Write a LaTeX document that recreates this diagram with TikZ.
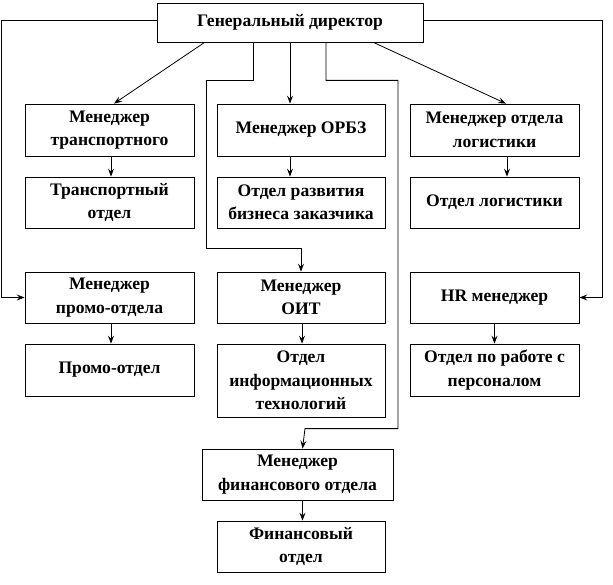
\documentclass[tikz,border=0pt]{standalone}
\usepackage{fontspec}
\setmainfont{Liberation Serif}
\usetikzlibrary{arrows.meta}
\begin{document}
\begin{tikzpicture}[x=1pt,y=-1pt,
  box/.style={draw, line width=0.8pt, align=center, inner sep=0pt,
    font=\fontsize{17.6}{23.5}\selectfont\bfseries},
  conn/.style={line width=0.8pt},
  arr/.style={conn, -{Stealth[length=8pt,width=6pt,inset=3pt]}}]
\useasboundingbox (0,0) rectangle (613,585);
\newcommand\orgbox[6]{\node[box, minimum width={#4-#2}, minimum height={#5-#3}]
  (#1) at ({(#2+#4)/2},{(#3+#5)/2}) {#6};}
\orgbox{gd}{157}{3}{423}{42}{Генеральный директор}
\orgbox{mt}{25}{104}{194}{156}{Менеджер\\транспортного}
\orgbox{mo}{217}{104}{385}{156}{Менеджер ОРБЗ}
\orgbox{ml}{410}{104}{579}{156}{Менеджер отдела\\логистики}
\orgbox{dt}{25}{177}{194}{228}{Транспортный\\отдел}
\orgbox{dr}{217}{177}{385}{228}{Отдел развития\\бизнеса заказчика}
\orgbox{dl}{410}{177}{579}{228}{Отдел логистики}
\orgbox{mp}{25}{272}{194}{323}{Менеджер\\промо-отдела}
\orgbox{mi}{217}{272}{385}{323}{Менеджер\\ОИТ}
\orgbox{mh}{410}{272}{579}{323}{HR менеджер}
\orgbox{dp}{25}{344}{194}{396}{Промо-отдел}
\orgbox{di}{217}{344}{385}{417}{Отдел\\информационных\\технологий}
\orgbox{dh}{410}{344}{579}{396}{Отдел по работе с\\персоналом}
\orgbox{mf}{202}{449}{393}{500}{Менеджер\\финансового отдела}
\orgbox{df}{217}{521}{385}{572}{Финансовый\\отдел}
% outer lines
\draw[arr] ([yshift=2.5pt]gd.west) -- ++(-155,0) |- (mp.west);
\draw[arr] ([yshift=2.5pt]gd.east) -- ++(179,0) |- (mh.east);
% diagonals and middle
\draw[arr] ([xshift=48pt]gd.south west) -- ([xshift=4.5pt]mt.north);
\draw[arr] ([xshift=-50pt]gd.south east) -- ([xshift=11.5pt]ml.north);
\draw[arr] (gd.south) -- (gd.south |- mo.north);
% routed lines
\draw[arr] ([xshift=-37pt]gd.south) -- ++(0,38) -- ++(-47,0) |- ([yshift=23pt]mi.north) -- (mi.north);
\draw[arr] ([xshift=36pt]gd.south) -- ++(0,38) -- ++(72,0) |- ([xshift=7.5pt,yshift=20pt]mf.north) -- ([xshift=5pt]mf.north);
% manager -> department
\draw[arr] ([xshift=1.5pt]mt.south) -- ([xshift=1.5pt]dt.north);
\draw[arr] (gd.south |- mo.south) -- (gd.south |- dr.north);
\draw[arr] ([xshift=12.5pt]ml.south) -- ([xshift=12.5pt]dl.north);
\draw[arr] ([xshift=1.5pt]mp.south) -- ([xshift=1.5pt]dp.north);
\draw[arr] ([xshift=1pt]mi.south) -- ([xshift=1pt]di.north);
\draw[arr] (mh.south) -- (dh.north);
\draw[arr] ([xshift=5pt]mf.south) -- ([xshift=1.5pt]df.north);
\end{tikzpicture}
\end{document}
